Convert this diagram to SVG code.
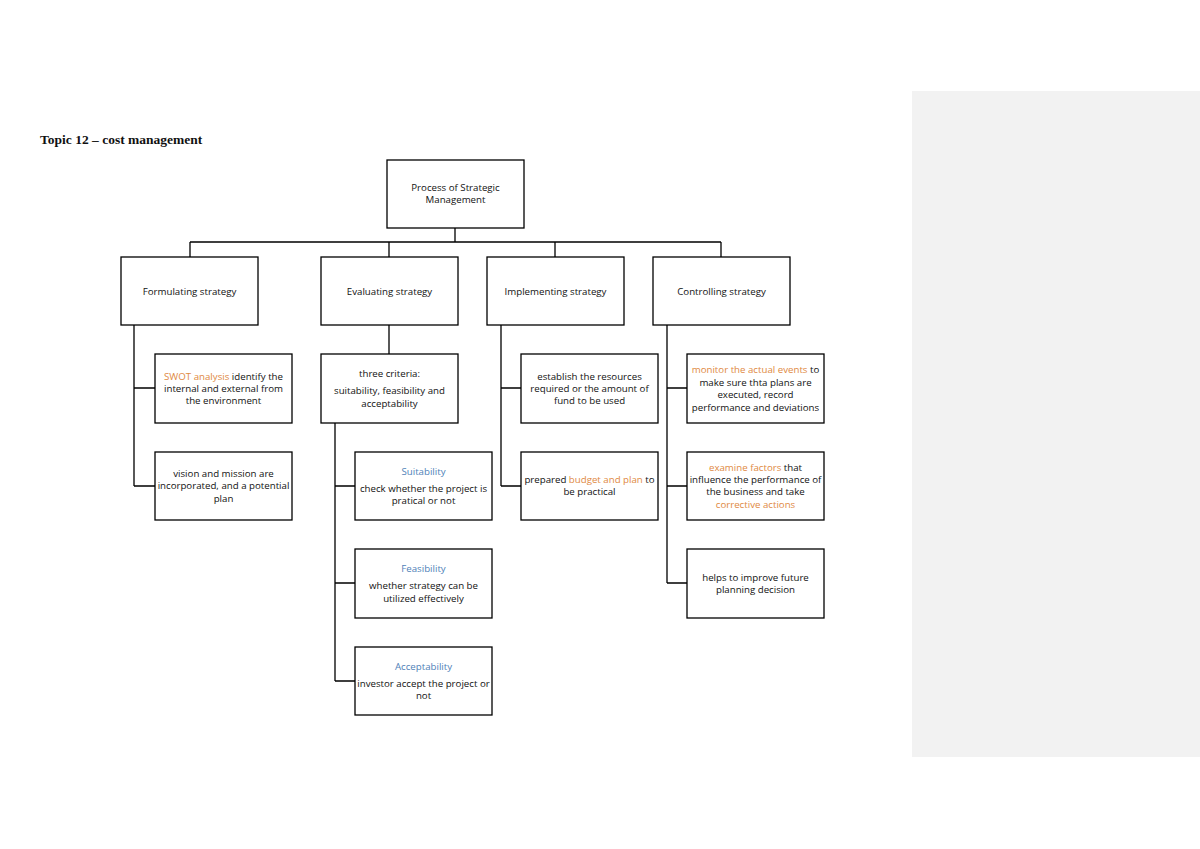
<svg xmlns="http://www.w3.org/2000/svg" width="1200" height="849" viewBox="0 0 1200 849">
<style>
.box{fill:#fff;stroke:#000;stroke-width:1.3}
.ln{fill:none;stroke:#000;stroke-width:1.3}
text{font-family:"Open Sans","Liberation Sans",sans-serif;font-size:9.7px;fill:#111;text-anchor:middle}
.o{fill:#e0893f}
.b{fill:#4f7fb8}
.title{font-family:"Liberation Serif",serif;font-weight:bold;font-size:13.5px;text-anchor:start}
</style>
<rect x="0" y="0" width="1200" height="849" fill="#fff"/>
<rect x="912" y="91" width="288" height="666" fill="#f2f2f2"/>
<text class="title" x="40" y="143.5">Topic 12 – cost management</text>
<g id="connectors">
<path class="ln" d="M455 228V242M190 242H721M190 242V257M389 242V257M555 242V257M721 242V257"/>
<path class="ln" d="M134 325V486M134 388H155M134 486H155"/>
<path class="ln" d="M389 325V354M335 423V681M335 486H355M335 583H355M335 681H355"/>
<path class="ln" d="M501 325V486M501 388H521M501 486H521"/>
<path class="ln" d="M667 325V583M667 388H687M667 486H687M667 583H687"/>
</g>
<g id="root"><rect class="box" x="387" y="160" width="137" height="68"/><text x="455.5" y="190.5">Process of Strategic</text><text x="455.5" y="202.5">Management</text></g>
<g id="formulating"><rect class="box" x="121" y="257" width="137" height="68"/><text x="189.5" y="294.5">Formulating strategy</text></g>
<g id="evaluating"><rect class="box" x="321" y="257" width="137" height="68"/><text x="389.5" y="294.5">Evaluating strategy</text></g>
<g id="implementing"><rect class="box" x="487" y="257" width="137" height="68"/><text x="555.5" y="294.5">Implementing strategy</text></g>
<g id="controlling"><rect class="box" x="653" y="257" width="137" height="68"/><text x="721.5" y="294.5">Controlling strategy</text></g>
<g id="swot"><rect class="box" x="155" y="354" width="137" height="69"/><text x="223.5" y="379.5"><tspan class="o">SWOT analysis</tspan> identify the</text><text x="223.5" y="391.5">internal and external from</text><text x="223.5" y="403.5">the environment</text></g>
<g id="vision"><rect class="box" x="155" y="452" width="137" height="68"/><text x="223.5" y="476.5">vision and mission are</text><text x="223.5" y="489">incorporated, and a potential</text><text x="223.5" y="501.5">plan</text></g>
<g id="criteria"><rect class="box" x="321" y="354" width="137" height="69"/><text x="389.5" y="376.5">three criteria:</text><text x="389.5" y="393.5">suitability, feasibility and</text><text x="389.5" y="406.5">acceptability</text></g>
<g id="suitability"><rect class="box" x="355" y="452" width="137" height="68"/><text class="b" x="423.5" y="474.5">Suitability</text><text x="423.5" y="491.5">check whether the project is</text><text x="423.5" y="503.5">pratical or not</text></g>
<g id="feasibility"><rect class="box" x="355" y="549" width="137" height="69"/><text class="b" x="423.5" y="571.5">Feasibility</text><text x="423.5" y="588.5">whether strategy can be</text><text x="423.5" y="601.5">utilized effectively</text></g>
<g id="acceptability"><rect class="box" x="355" y="647" width="137" height="68"/><text class="b" x="423.5" y="669.5">Acceptability</text><text x="423.5" y="686.5">investor accept the project or</text><text x="423.5" y="698.5">not</text></g>
<g id="establish"><rect class="box" x="521" y="354" width="137" height="69"/><text x="589.5" y="379.5">establish the resources</text><text x="589.5" y="391.5">required or the amount of</text><text x="589.5" y="403.5">fund to be used</text></g>
<g id="prepared"><rect class="box" x="521" y="452" width="137" height="68"/><text x="589.5" y="482.5">prepared <tspan class="o">budget and plan</tspan> to</text><text x="589.5" y="494.5">be practical</text></g>
<g id="monitor"><rect class="box" x="687" y="354" width="137" height="69"/><text x="755.5" y="372.5"><tspan class="o">monitor the actual events</tspan> to</text><text x="755.5" y="385.5">make sure thta plans are</text><text x="755.5" y="397.5">executed, record</text><text x="755.5" y="410.5">performance and deviations</text></g>
<g id="examine"><rect class="box" x="687" y="452" width="137" height="68"/><text x="755.5" y="470.5"><tspan class="o">examine factors</tspan> that</text><text x="755.5" y="482.5">influence the performance of</text><text x="755.5" y="494.5">the business and take</text><text class="o" x="755.5" y="507.5">corrective actions</text></g>
<g id="helps"><rect class="box" x="687" y="549" width="137" height="69"/><text x="755.5" y="580.5">helps to improve future</text><text x="755.5" y="592.5">planning decision</text></g>
</svg>
